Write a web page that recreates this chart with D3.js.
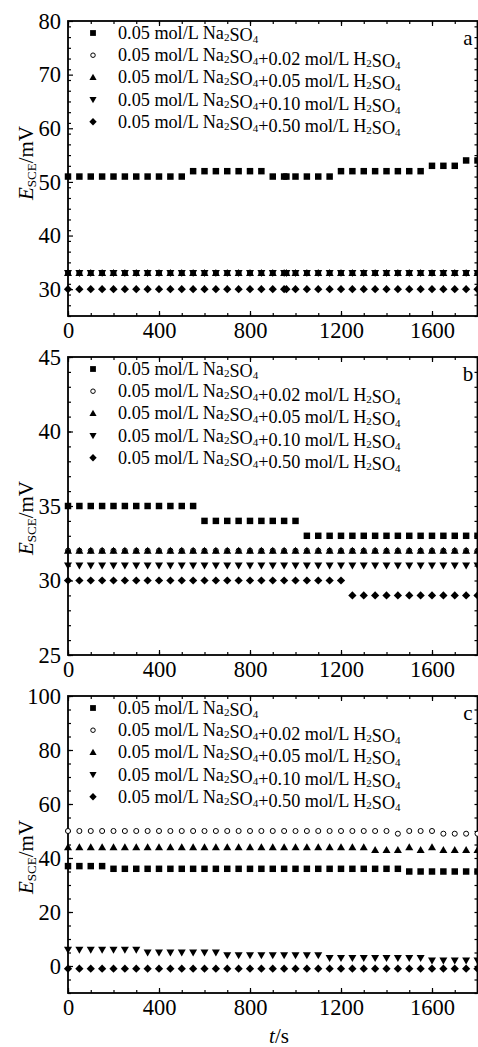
<!DOCTYPE html>
<html>
<head>
<meta charset="utf-8">
<script src="https://cdn.jsdelivr.net/npm/d3@7"></script>
<style>
  html, body { margin: 0; padding: 0; background: #fff; }
  svg, svg text { font-family: "Liberation Serif", "Times New Roman", "DejaVu Serif", serif; }
</style>
</head>
<body>
<svg id="chart" width="478" height="1047"></svg>
<script>
// ---- data ----
const seriesLabels = [
  "0.05 mol/L Na2SO4",
  "0.05 mol/L Na2SO4+0.02 mol/L H2SO4",
  "0.05 mol/L Na2SO4+0.05 mol/L H2SO4",
  "0.05 mol/L Na2SO4+0.10 mol/L H2SO4",
  "0.05 mol/L Na2SO4+0.50 mol/L H2SO4"
];
const panelNames = ["a", "b", "c"];
const xTicks = [0, 400, 800, 1200, 1600];

// time stamps (s)
const timeA = [0,50,100,150,200,250,300,350,400,450,500,550,600,650,700,750,800,850,900,950,960,1000,1050,1100,1150,1200,1250,1300,1350,1400,1450,1500,1550,1600,1650,1700,1750,1800];
const timeBC = [0,50,100,150,200,250,300,350,400,450,500,550,600,650,700,750,800,850,900,950,1000,1050,1100,1150,1200,1250,1300,1350,1400,1450,1500,1550,1600,1650,1700,1750,1800];

// panel a (E_SCE, mV)
const a_na2so4 = [51,51,51,51,51,51,51,51,51,51,51,52,52,52,52,52,52,52,51,51,51,51,51,51,51,52,52,52,52,52,52,52,52,53,53,53,54,54];
const a_h002   = [33,33,33,33,33,33,33,33,33,33,33,33,33,33,33,33,33,33,33,33,33,33,33,33,33,33,33,33,33,33,33,33,33,33,33,33,33,33];
const a_h005   = [33,33,33,33,33,33,33,33,33,33,33,33,33,33,33,33,33,33,33,33,33,33,33,33,33,33,33,33,33,33,33,33,33,33,33,33,33,33];
const a_h010   = [33,33,33,33,33,33,33,33,33,33,33,33,33,33,33,33,33,33,33,33,33,33,33,33,33,33,33,33,33,33,33,33,33,33,33,33,33,33];
const a_h050   = [30,30,30,30,30,30,30,30,30,30,30,30,30,30,30,30,30,30,30,30,30,30,30,30,30,30,30,30,30,30,30,30,30,30,30,30,30,30];

// panel b
const b_na2so4 = [35,35,35,35,35,35,35,35,35,35,35,35,34,34,34,34,34,34,34,34,34,33,33,33,33,33,33,33,33,33,33,33,33,33,33,33,33];
const b_h002   = [32,32,32,32,32,32,32,32,32,32,32,32,32,32,32,32,32,32,32,32,32,32,32,32,32,32,32,32,32,32,32,32,32,32,32,32,32];
const b_h005   = [32,32,32,32,32,32,32,32,32,32,32,32,32,32,32,32,32,32,32,32,32,32,32,32,32,32,32,32,32,32,32,32,32,32,32,32,32];
const b_h010   = [31,31,31,31,31,31,31,31,31,31,31,31,31,31,31,31,31,31,31,31,31,31,31,31,31,31,31,31,31,31,31,31,31,31,31,31,31];
const b_h050   = [30,30,30,30,30,30,30,30,30,30,30,30,30,30,30,30,30,30,30,30,30,30,30,30,30,29,29,29,29,29,29,29,29,29,29,29,29];

// panel c
const c_na2so4 = [37,37,37,37,36,36,36,36,36,36,36,36,36,36,36,36,36,36,36,36,36,36,36,36,36,36,36,36,36,36,35,35,35,35,35,35,35];
const c_h002   = [50,50,50,50,50,50,50,50,50,50,50,50,50,50,50,50,50,50,50,50,50,50,50,50,50,50,50,50,50,49,50,50,50,49,49,49,49];
const c_h005   = [44,44,44,44,44,44,44,44,44,44,44,44,44,44,44,44,44,44,44,44,44,44,44,44,44,44,44,43,43,43,44,43,44,43,43,43,43];
const c_h010   = [6,6,6,6,6,6,6,5,5,5,5,5,5,5,4,4,4,4,4,4,4,4,4,3,3,3,3,3,3,3,3,3,2,2,2,2,2];
const c_h050   = [-1,-1,-1,-1,-1,-1,-1,-1,-1,-1,-1,-1,-1,-1,-1,-1,-1,-1,-1,-1,-1,-1,-1,-1,-1,-1,-1,-1,-1,-1,-1,-1,-1,-1,-1,-1,-1];

// ---- layout ----
const svg = d3.select('#chart');
const FONT = '"Liberation Serif", "Times New Roman", serif';
const plotLeft = 68, plotRight = 477.5;

const symSquare = {draw(ctx, s){ const r = Math.sqrt(s) / 2; ctx.rect(-r, -r, 2 * r, 2 * r); }};
const symDiamond = {draw(ctx, s){ const r = Math.sqrt(s) / 2; ctx.moveTo(0, -r); ctx.lineTo(r, 0); ctx.lineTo(0, r); ctx.lineTo(-r, 0); ctx.closePath(); }};
const symUp = {draw(ctx, s){ const r = Math.sqrt(s) / 2; ctx.moveTo(0, -r); ctx.lineTo(r, r * 0.75); ctx.lineTo(-r, r * 0.75); ctx.closePath(); }};
const symDown = {draw(ctx, s){ const r = Math.sqrt(s) / 2; ctx.moveTo(0, r); ctx.lineTo(r, -r * 0.75); ctx.lineTo(-r, -r * 0.75); ctx.closePath(); }};

const markers = [
  {type: symSquare, size: 42, fill: '#000'},
  {type: d3.symbolCircle, size: 20, fill: '#fff'},
  {type: symUp, size: 64, fill: '#000'},
  {type: symDown, size: 64, fill: '#000'},
  {type: symDiamond, size: 68, fill: '#000'}
];

const panels = [
  {top: 21, bottom: 316, domain: [25, 80], major: [30, 40, 50, 60, 70, 80], minorStep: 2, time: timeA,
   series: [a_na2so4, a_h002, a_h005, a_h010, a_h050], labelY: 163},
  {top: 357, bottom: 655, domain: [25, 45], major: [25, 30, 35, 40, 45], minorStep: 1, time: timeBC,
   series: [b_na2so4, b_h002, b_h005, b_h010, b_h050], labelY: 518},
  {top: 696, bottom: 993, domain: [-10, 100], major: [0, 20, 40, 60, 80, 100], minorStep: 5, time: timeBC,
   series: [c_na2so4, c_h002, c_h005, c_h010, c_h050], labelY: 857}
];

const x = d3.scaleLinear().domain([0, 1800]).range([plotLeft, plotRight]);

function subText(sel, str, subSize){
  // digits right after a letter become subscripts (Na2SO4, H2SO4)
  str.split(/(?<=[A-Za-z])(\d)/).forEach((part, i) => {
    if(!part) return;
    if(i % 2){
      sel.append('tspan').attr('font-size', subSize).attr('dy', 2).text(part);
      sel.append('tspan').attr('dy', -2).text('');
    } else {
      sel.append('tspan').text(part);
    }
  });
}

function styleAxis(a){
  a.attr('font-family', FONT);
  a.select('.domain').remove();
  a.selectAll('text').attr('font-size', 22.5).attr('fill', '#000');
}

panels.forEach((p, pi) => {
  const y = d3.scaleLinear().domain(p.domain).range([p.bottom, p.top]);
  const g = svg.append('g');

  const minor = d3.range(p.domain[0], p.domain[1] + 0.001, p.minorStep);
  const xMinor = d3.range(0, 1801, 100);

  // ticks point inward
  g.append('g').attr('transform', `translate(${plotLeft},0)`)
    .call(d3.axisLeft(y).tickValues(minor).tickSize(-3).tickFormat(''))
    .call(styleAxis);
  g.append('g').attr('transform', `translate(${plotLeft},0)`)
    .call(d3.axisLeft(y).tickValues(p.major).tickSize(-5).tickPadding(7))
    .call(styleAxis);
  g.append('g').attr('transform', `translate(${plotRight},0)`)
    .call(d3.axisRight(y).tickValues(minor).tickSize(-3).tickFormat(''))
    .call(styleAxis);
  g.append('g').attr('transform', `translate(0,${p.bottom})`)
    .call(d3.axisBottom(x).tickValues(xMinor).tickSize(-3).tickFormat(''))
    .call(styleAxis);
  g.append('g').attr('transform', `translate(0,${p.bottom})`)
    .call(d3.axisBottom(x).tickValues(xTicks).tickSize(-5).tickPadding(6).tickFormat(d3.format('d')))
    .call(styleAxis);
  g.append('g').attr('transform', `translate(0,${p.top})`)
    .call(d3.axisTop(x).tickValues(xMinor).tickSize(-3).tickFormat(''))
    .call(styleAxis);
  g.append('g').attr('transform', `translate(0,${p.top})`)
    .call(d3.axisTop(x).tickValues(xTicks).tickSize(-5).tickFormat(''))
    .call(styleAxis);
  g.selectAll('.tick line').attr('stroke', '#000').attr('stroke-width', 1.2);

  // frame
  g.append('rect')
    .attr('x', plotLeft).attr('y', p.top)
    .attr('width', plotRight - plotLeft).attr('height', p.bottom - p.top)
    .attr('fill', 'none').attr('stroke', '#000').attr('stroke-width', 1.8);

  // data
  p.series.forEach((vals, si) => {
    const m = markers[si];
    g.append('g').selectAll('path')
      .data(vals.map((v, i) => [p.time[i], v]))
      .join('path')
        .attr('transform', d => `translate(${x(d[0])},${y(d[1])})`)
        .attr('d', d3.symbol(m.type, m.size))
        .attr('fill', m.fill)
        .attr('stroke', si === 1 ? '#000' : 'none')
        .attr('stroke-width', 1);
  });

  // legend
  const leg = g.append('g').attr('font-family', FONT);
  seriesLabels.forEach((lab, si) => {
    const m = markers[si];
    const ly = p.top + 12 + si * 22.2;
    leg.append('path')
      .attr('transform', `translate(93,${ly})`)
      .attr('d', d3.symbol(m.type, m.size * 0.8))
      .attr('fill', m.fill)
      .attr('stroke', si === 1 ? '#000' : 'none');
    const t = leg.append('text')
      .attr('x', 118).attr('y', ly + 6)
      .attr('font-size', 18.2).attr('fill', '#000');
    subText(t, lab, 11);
  });

  // panel letter
  g.append('text')
    .attr('x', 468).attr('y', p.top + 24)
    .attr('text-anchor', 'middle')
    .attr('font-family', FONT)
    .attr('font-size', 21)
    .text(panelNames[pi]);

  // y label
  const yl = g.append('text')
    .attr('transform', `translate(33,${p.labelY}) rotate(-90)`)
    .attr('text-anchor', 'middle')
    .attr('font-family', FONT)
    .attr('font-size', 21);
  yl.append('tspan').attr('font-style', 'italic').text('E');
  yl.append('tspan').attr('font-size', 13).attr('dy', 3).text('SCE');
  yl.append('tspan').attr('dy', -3).text('/mV');
});

// x label
const xl = svg.append('text')
  .attr('x', 279).attr('y', 1043)
  .attr('text-anchor', 'middle')
  .attr('font-family', FONT)
  .attr('font-size', 21);
xl.append('tspan').attr('font-style', 'italic').text('t');
xl.append('tspan').text('/s');
</script>
</body>
</html>
